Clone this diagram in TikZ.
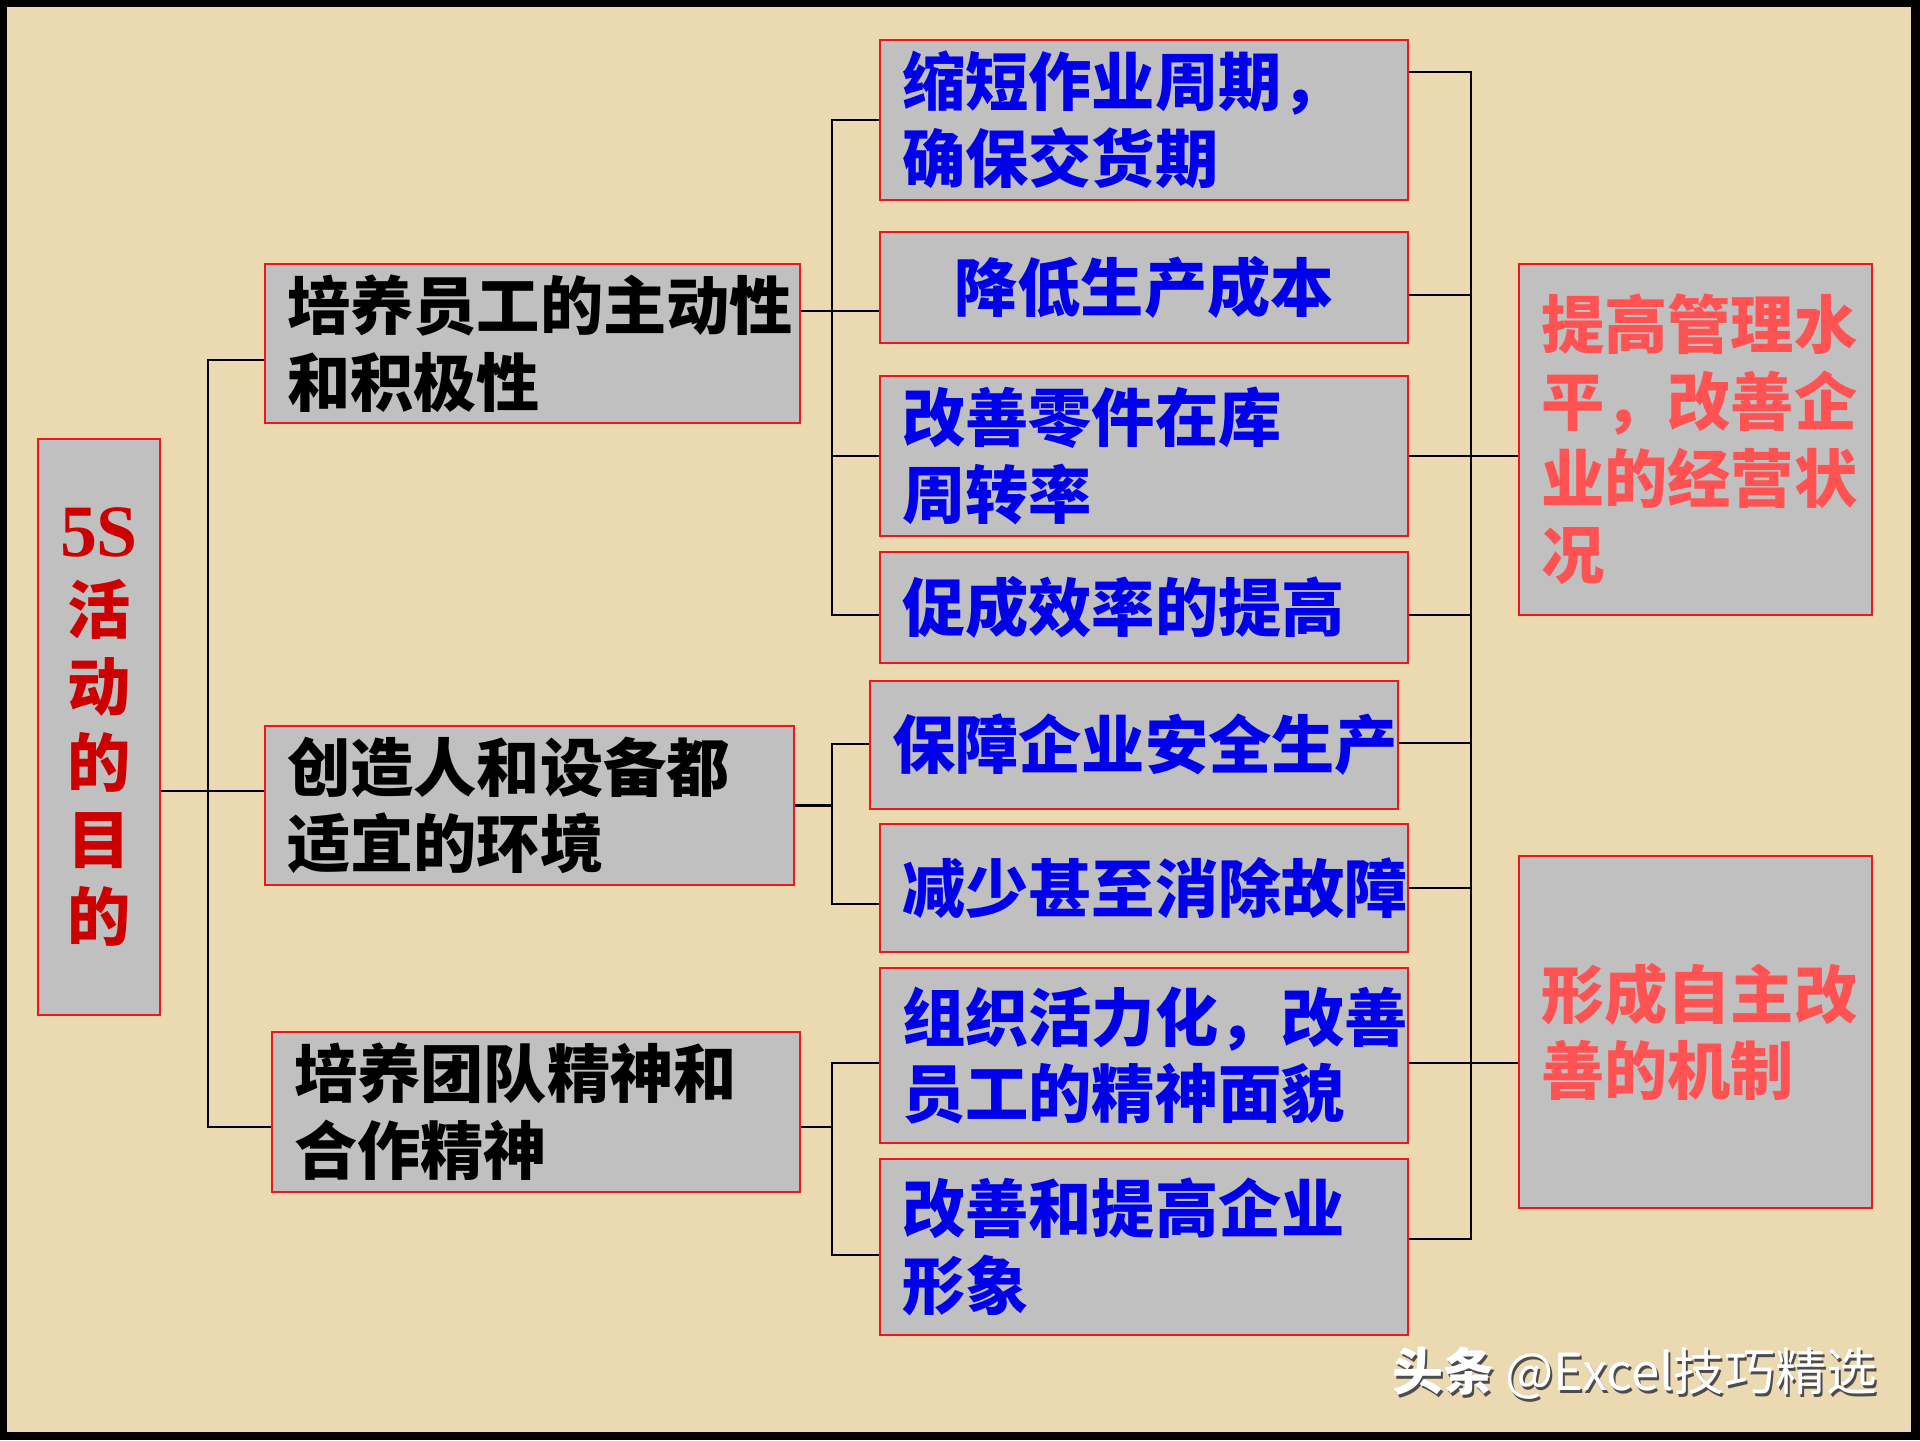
\documentclass[tikz,border=0pt]{standalone}
\usepackage{fontspec}
\newfontfamily\cjk{Noto Sans CJK SC}
\newfontfamily\latinserif{Liberation Serif}
\usepackage{tikz}
\usetikzlibrary{positioning}
\usepackage{xcolor}
\definecolor{paper}{RGB}{234,217,177}
\definecolor{boxgray}{RGB}{192,192,192}
\definecolor{boxred}{RGB}{235,25,25}
\definecolor{deepred}{RGB}{205,0,0}
\definecolor{lightred}{RGB}{255,82,82}
\definecolor{textblue}{RGB}{0,0,235}
\tikzset{%
	every box/.style={
		draw=boxred,
		fill=boxgray,
		line width=0.8pt,
		inner xsep=0.22cm,
		inner ysep=0pt,
		font=\cjk\bfseries\fontsize{18}{21.8}\selectfont
	},
	goal/.style={
		every box,
		text=black,
		align=left,
		minimum height=1.59cm
	},
	effect/.style={
		every box,
		text=textblue,
		align=left,
		text width=4.84cm
	},
	result/.style={
		every box,
		text=lightred,
		align=left,
		text width=3.09cm
	},
}

\begin{document}
\begin{tikzpicture}[x=1cm,y=1cm,line width=0.6pt]
	\tikzstyle{link}=[draw=black]
	%\tikzstyle{title}=[every box,text=deepred,align=center]
	\tikzstyle{title}=[every box,text=deepred,align=center,text width=0.78cm,minimum height=5.76cm]
	
	% paper with black frame
	\fill[black] (0,0) rectangle (19.2,-14.4);
	\fill[paper] (0.07,-0.07) rectangle (19.11,-14.32);
	\useasboundingbox (0,0) rectangle (19.2,-14.4);
	
	\node[title](s5) at (0.99,-7.27){{\latinserif\bfseries\fontsize{21}{21.8}\selectfont 5S}\\活\\动\\的\\目\\的};
	
	\node[goal,text width=4.91cm](g1) at (5.325,-3.435){培养员工的主动性\\和积极性};
	\node[goal,text width=4.85cm](g2) at (5.295,-8.055){创造人和设备都\\适宜的环境};
	\node[goal,text width=4.84cm,minimum height=1.60cm](g3) at (5.36,-11.12){培养团队精神和\\合作精神};
	
	\node[effect,minimum height=1.60cm](m1) at (11.44,-1.20){缩短作业周期，\\确保交货期};
	\node[effect,minimum height=1.11cm,align=center](m2) at (11.44,-2.875){降低生产成本};
	\node[effect,minimum height=1.60cm](m3) at (11.44,-4.56){改善零件在库\\周转率};
	\node[effect,minimum height=1.11cm](m4) at (11.44,-6.075){促成效率的提高};
	\node[effect,minimum height=1.28cm](m5) at (11.34,-7.45){保障企业安全生产};
	\node[effect,minimum height=1.28cm](m6) at (11.44,-8.88){减少甚至消除故障};
	\node[effect,minimum height=1.75cm](m7) at (11.44,-10.555){组织活力化，改善\\员工的精神面貌};
	\node[effect,minimum height=1.76cm](m8) at (11.44,-12.47){改善和提高企业\\形象};
	
	\node[result,minimum height=3.51cm](r1) at (16.955,-4.395){提高管理水\\平，改善企\\业的经营状\\况};
	\node[result,minimum height=3.52cm](r2) at (16.955,-10.32){形成自主改\\善的机制};
	
	% left trunk
	\coordinate (l1) at (2.08,-3.60);
	\coordinate (l2) at (2.08,-7.91);
	\coordinate (l3) at (2.08,-11.27);
	\draw[link] (g1.west |- l1) -- (l1) -- (l3) -- (g3.west |- l3);
	\draw[link] (s5.east |- l2) -- (g2.west |- l2);
	
	% middle trunks
	\coordinate (a0) at (8.32,-3.11);
	\coordinate (a1) at (8.32,-1.20);
	\coordinate (a3) at (8.32,-6.15);
	\draw[link] (g1.east |- a0) -- (m2.west |- a0);
	\draw[link] (m1.west |- a1) -- (a1) -- (a3) -- (m4.west |- a3);
	\draw[link] (m3.west) -- (m3.west -| a1);
	
	\coordinate (b1) at (8.32,-7.44);
	\coordinate (b2) at (8.32,-9.04);
	\draw[link] (g2.east) -- (g2.east -| b1);
	\draw[link] (m5.west |- b1) -- (b1) -- (b2) -- (m6.west |- b2);
	
	\coordinate (c0) at (8.32,-11.27);
	\coordinate (c1) at (8.32,-10.63);
	\coordinate (c2) at (8.32,-12.55);
	\draw[link] (g3.east |- c0) -- (c0);
	\draw[link] (m7.west |- c1) -- (c1) -- (c2) -- (m8.west |- c2);
	
	% right trunk
	\coordinate (e1) at (14.71,-0.72);
	\coordinate (e2) at (14.71,-2.95);
	\coordinate (e3) at (14.71,-4.56);
	\coordinate (e4) at (14.71,-6.15);
	\coordinate (e5) at (14.71,-7.43);
	\coordinate (e6) at (14.71,-8.88);
	\coordinate (e7) at (14.71,-10.63);
	\coordinate (e8) at (14.71,-12.39);
	\draw[link] (m1.east |- e1) -- (e1) -- (e8) -- (m8.east |- e8);
	\draw[link] (m2.east |- e2) -- (e2);
	\draw[link] (m3.east |- e3) -- (r1.west |- e3);
	\draw[link] (m4.east |- e4) -- (e4);
	\draw[link] (m5.east |- e5) -- (e5);
	\draw[link] (m6.east |- e6) -- (e6);
	\draw[link] (m7.east |- e7) -- (r2.west |- e7);
	
	\node[text=black!70,font=\cjk\fontsize{14.5}{16}\selectfont](wmshadow) at (16.37,-13.76){{\bfseries 头条} @Excel技巧精选};
	\node[text=white,font=\cjk\fontsize{14.5}{16}\selectfont](wm) at (16.35,-13.73){{\bfseries 头条} @Excel技巧精选};
\end{tikzpicture}
\end{document}
